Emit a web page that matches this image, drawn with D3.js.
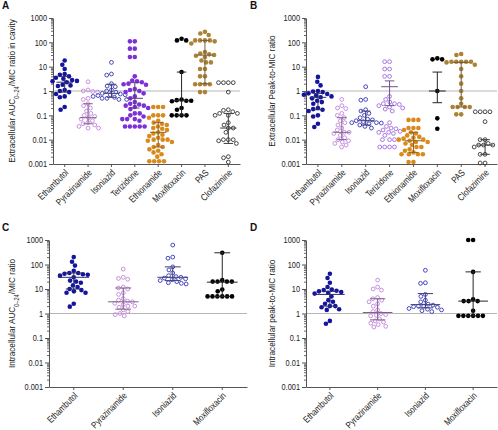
<!DOCTYPE html>
<html><head><meta charset="utf-8">
<script src="https://cdn.jsdelivr.net/npm/d3@7"></script>
<style>
body{margin:0;background:#fff;}
svg{display:block;font-family:"Liberation Sans",Arial,sans-serif;}
</style></head>
<body>
<svg id="c" width="498" height="430"></svg>
<script>
// ---------- DATA ----------
const catsAB = ["Ethambutol","Pyrazinamide","Isoniazid","Terizidone","Ethionamide","Moxifloxacin","PAS","Clofazimine"];
const catsCD = ["Ethambutol","Pyrazinamide","Isoniazid","Moxifloxacin"];
const yTicks = [0.001,0.01,0.1,1,10,100,1000];
const yTickLabels = ["0.001","0.01","0.1","1","10","100","1000"];

// Panel A: extracellular AUC0-24/MIC in cavity
const A_values = [
  [18,12,8,5,4.6,4,3.5,3.2,2.8,2.6,2.5,2.3,1.8,1.7,1.6,1.1,1.0,0.9,0.75,0.6,0.55,0.22,0.17],
  [2.4,1.1,1.0,0.95,0.9,0.5,0.45,0.3,0.25,0.2,0.15,0.12,0.1,0.09,0.08,0.07,0.06,0.05,0.045,0.04,0.035,0.03,0.03],
  [15,5,4.5,2,1.6,1.5,1.1,1.0,0.9,0.8,0.75,0.7,0.7,0.65,0.6,0.55,0.5,0.5,0.45,0.45],
  [110,110,55,55,25,25,4,2.7,2.5,2.3,2.0,1.9,1.8,1.2,1.1,1.0,0.9,0.8,0.6,0.5,0.35,0.3,0.28,0.25,0.25,0.22,0.2,0.18,0.12,0.12,0.1,0.09,0.07,0.07,0.07,0.06,0.035,0.035,0.035,0.035,0.035],
  [0.22,0.22,0.22,0.1,0.1,0.1,0.08,0.06,0.05,0.045,0.04,0.035,0.03,0.028,0.025,0.02,0.018,0.016,0.014,0.012,0.01,0.01,0.01,0.009,0.008,0.006,0.005,0.005,0.004,0.0035,0.003,0.0025,0.002,0.0013,0.0013,0.0013,0.0013],
  [140,120,120,6,0.45,0.42,0.4,0.4,0.38,0.2,0.17,0.1,0.1,0.1,0.1],
  [270,230,200,120,120,120,120,110,90,40,35,32,30,28,25,18,15,15,8,8,4,4,1.9,1.9,1.9,1.9,0.9,0.9],
  [2.2,2.2,2.2,2.2,0.9,0.17,0.16,0.14,0.12,0.12,0.1,0.1,0.05,0.04,0.03,0.03,0.02,0.01,0.01,0.01,0.009,0.007,0.002,0.0018,0.0012]
];
const A_median = [2.3,0.08,0.8,0.5,0.02,0.4,30,0.03];
const A_q1 = [0.9,0.045,0.55,0.2,0.005,0.1,2,0.007];
const A_q3 = [4,0.3,1.9,2.2,0.05,6,120,0.12];

// Panel B: extracellular peak-to-MIC
const B_values = [
  [3.8,2.4,1.7,1.0,0.95,0.9,0.8,0.75,0.7,0.65,0.6,0.55,0.5,0.4,0.35,0.3,0.2,0.18,0.17,0.15,0.1,0.09,0.045,0.033],
  [0.45,0.25,0.2,0.19,0.12,0.1,0.08,0.06,0.05,0.04,0.03,0.025,0.02,0.02,0.018,0.015,0.012,0.01,0.009,0.008,0.007,0.006,0.005],
  [1.5,0.45,0.42,0.17,0.15,0.12,0.1,0.08,0.07,0.065,0.06,0.055,0.05,0.05,0.048,0.045,0.04,0.035,0.03],
  [16,16,8,8,4,4,0.6,0.45,0.35,0.3,0.3,0.28,0.25,0.22,0.2,0.18,0.15,0.05,0.035,0.03,0.028,0.025,0.022,0.02,0.02,0.018,0.015,0.01,0.01,0.01,0.005,0.005,0.005,0.005],
  [0.065,0.065,0.065,0.03,0.03,0.03,0.025,0.02,0.018,0.015,0.013,0.012,0.011,0.01,0.01,0.009,0.008,0.008,0.007,0.006,0.005,0.005,0.004,0.0035,0.003,0.0025,0.0025,0.0025,0.0025,0.0012,0.0012],
  [20,20,22,1,0.075,0.028],
  [33,30,16,16,16,16,16,15,12,8,4,2,1,0.5,0.3,0.22,0.22,0.22,0.22,0.11,0.11],
  [0.14,0.14,0.14,0.14,0.055,0.01,0.01,0.007,0.006,0.006,0.006,0.005,0.0025,0.0025,0.0011,0.0011]
];
const B_median = [0.55,0.02,0.06,1.5,0.009,1,15,0.006];
const B_q1 = [0.17,0.01,0.04,0.25,0.003,0.33,0.22,0.0025];
const B_q3 = [0.8,0.08,0.15,2.6,0.02,6,15,0.01];

// Panel C: intracellular AUC0-24/MIC
const C_values = [
  [200,130,90,55,45,45,42,40,38,35,30,22,20,18,14,12,10,9,8,7,7,2.5,1.9],
  [65,30,27,25,12,11,10,7,6,4,3.5,3.2,3,2.6,2.3,2,2,1.8,1.4,1.2,1.0,0.9,0.8],
  [620,200,180,80,60,45,35,32,30,28,26,24,22,20,18,17,16],
  [300,23,20,20,20,20,9.5,8,5,5,5,5,5,5]
];
const C_median = [30,3,30,19];
const C_q1 = [10,1.5,22,5];
const C_q3 = [45,11,80,300];

// Panel D: intracellular peak-to-MIC
const D_values = [
  [42,28,18,12,9.5,9,8.5,8,7.5,7,6.5,5,3.5,3,2.5,2,2,1.8,1.5,1.4,0.5,0.38],
  [23,12,10,9,4.5,4,3.5,3,2.5,2,1.4,1.2,1.0,0.9,0.85,0.8,0.6,0.5,0.45,0.4,0.35,0.3,0.28],
  [58,18,17,6,5,3.5,3,2.4,2.2,2,2,1.9,1.8,1.6,1.5,1.4,1.3,1.2],
  [1000,1000,50,3.8,3.2,3.2,3.2,1.3,0.8,0.8,0.8,0.8,0.8,0.8]
];
const D_median = [6,1.1,2.3,3.2];
const D_q1 = [2,0.55,1.7,0.8];
const D_q3 = [8,4,6.5,50];

// ---------- STYLE ----------
const colAB = ["#15159c","#c384de","#3535b5","#7b31d6","#d98a1c","#000000","#ad8237","#333333"];
const fillAB_A = [true,false,false,true,true,true,true,false];
const colB = ["#15159c","#c384de","#3535b5","#a06ae0","#d98a1c","#000000","#ad8237","#333333"];
const fillAB_B = [true,false,false,false,true,true,true,false];
const colCD = ["#15159c","#c384de","#3535b5","#000000"];
const fillCD = [true,false,false,true];

const svg = d3.select("#c");
const R = 2.3;

function condense(sel,k){
  sel.each(function(){
    const L=this.getComputedTextLength();
    if(L>0){this.setAttribute("textLength",(L*k).toFixed(2));this.setAttribute("lengthAdjust","spacingAndGlyphs");}
  });
}

function swarm(vals, y, D){
  const sorted = vals.map(v=>({v, y:y(v)})).sort((a,b)=>a.y-b.y);
  const placed=[];
  sorted.forEach(p=>{
    const cands=[0];
    placed.forEach(q=>{
      const dy=Math.abs(p.y-q.y);
      if(dy<D){const dx=Math.sqrt(D*D-dy*dy); cands.push(q.x+dx,q.x-dx);}
    });
    cands.sort((a,b)=>Math.abs(a)-Math.abs(b)||a-b);
    for(const c of cands){
      let ok=true;
      for(const q of placed){const dx=c-q.x,dy=p.y-q.y; if(dx*dx+dy*dy<D*D-0.01){ok=false;break;}}
      if(ok){p.x=c;break;}
    }
    placed.push(p);
  });
  return placed;
}

function panel(cfg){
  const g = svg.append("g");
  const y = d3.scaleLog().domain([0.001,1000]).range([cfg.y1,cfg.y0]);
  const x = d3.scaleBand().domain(cfg.cats).range([cfg.x0,cfg.x1]);
  // reference line at 1
  g.append("line").attr("x1",cfg.x0).attr("x2",cfg.x1).attr("y1",y(1)).attr("y2",y(1))
    .attr("stroke","#b5b5b5").attr("stroke-width",1);
  // minor ticks
  const minors=[];
  for(let e=-3;e<3;e++) for(let k=2;k<10;k++) minors.push(k*Math.pow(10,e));
  g.append("g").attr("transform",`translate(${cfg.x0},0)`)
    .call(d3.axisLeft(y).tickValues(minors).tickSize(2).tickFormat(""))
    .call(s=>{s.select(".domain").remove(); s.selectAll("line").attr("stroke","#666");});
  const ya = g.append("g").attr("transform",`translate(${cfg.x0},0)`)
    .call(d3.axisLeft(y).tickValues(yTicks).tickFormat((d,i)=>yTickLabels[i]).tickSize(4).tickSizeOuter(0));
  ya.select(".domain").attr("stroke","#555");
  ya.selectAll("line").attr("stroke","#555");
  ya.selectAll("text").attr("font-size","9px").attr("fill","#222").attr("font-family","Liberation Sans, Arial, sans-serif").attr("x",-6);
  condense(ya.selectAll("text"),0.82);
  const xa = g.append("g").attr("transform",`translate(0,${cfg.y1})`)
    .call(d3.axisBottom(x).tickSize(3).tickSizeOuter(0));
  xa.select(".domain").attr("stroke","#555");
  xa.selectAll("line").attr("stroke","#555");
  xa.selectAll("text").attr("font-size","9.5px").attr("fill","#1a1a1a").attr("font-family","Liberation Sans, Arial, sans-serif")
    .attr("text-anchor","end").attr("x",0).attr("y",0).attr("dy","0.35em").attr("transform","translate(2,7) rotate(-45)");
  condense(xa.selectAll("text"),0.8);

  // points
  cfg.cats.forEach((c,i)=>{
    const cx = x(c)+x.bandwidth()/2;
    const pts = swarm(cfg.values[i], y, 2*R+0.3);
    const col = cfg.colors[i];
    g.append("g").selectAll("circle").data(pts).join("circle")
      .attr("cx",d=>cx+d.x).attr("cy",d=>d.y).attr("r",cfg.fills[i]?R:R-0.4)
      .attr("fill",cfg.fills[i]?col:"#fff").attr("fill-opacity",cfg.fills[i]?1:0)
      .attr("stroke",col).attr("stroke-width",cfg.fills[i]?0:0.9);
    // error bar
    const wc = d3.interpolateRgb(col,"#444")(0.55);
    const bw = x.bandwidth();
    const mw = bw*cfg.medFrac, cw = bw*cfg.capFrac;
    g.append("line").attr("x1",cx).attr("x2",cx).attr("y1",y(cfg.q1[i])).attr("y2",y(cfg.q3[i]))
      .attr("stroke",wc).attr("stroke-width",1);
    [cfg.q1[i],cfg.q3[i]].forEach(v=>{
      g.append("line").attr("x1",cx-cw/2).attr("x2",cx+cw/2).attr("y1",y(v)).attr("y2",y(v))
        .attr("stroke",wc).attr("stroke-width",1);
    });
    g.append("line").attr("x1",cx-mw/2).attr("x2",cx+mw/2).attr("y1",y(cfg.med[i])).attr("y2",y(cfg.med[i]))
      .attr("stroke",wc).attr("stroke-width",1);
  });

  // y label
  const lab = g.append("text").attr("transform",`translate(${cfg.labelX},${(cfg.y0+cfg.y1)/2}) rotate(-90)`)
    .attr("text-anchor","middle").attr("font-size","9.5px").attr("fill","#222");
  cfg.label.forEach(part=>{
    const t = lab.append("tspan").text(part.t);
    if(part.sub) t.attr("font-size","6.5px").attr("baseline-shift","sub");
  });
  condense(lab,0.86);
  // letter
  svg.append("text").attr("x",cfg.lx).attr("y",cfg.ly).attr("font-size","10px").attr("font-weight","bold")
    .attr("fill","#111").text(cfg.letter);
}

panel({x0:53,x1:240,y0:18,y1:164,cats:catsAB,values:A_values,med:A_median,q1:A_q1,q3:A_q3,
  colors:colAB,fills:fillAB_A,medFrac:0.7,capFrac:0.4,labelX:15,
  label:[{t:"Extracellular AUC"},{t:"0\u201324",sub:true},{t:"/MIC ratio in cavity"}],letter:"A",lx:2,ly:9});
panel({x0:306,x1:497,y0:18,y1:164,cats:catsAB,values:B_values,med:B_median,q1:B_q1,q3:B_q3,
  colors:colB,fills:fillAB_B,medFrac:0.7,capFrac:0.4,labelX:275,
  label:[{t:"Extracellular Peak-to-MIC ratio"}],letter:"B",lx:250,ly:9});
panel({x0:49,x1:247,y0:240,y1:387,cats:catsCD,values:C_values,med:C_median,q1:C_q1,q3:C_q3,
  colors:colCD,fills:fillCD,medFrac:0.62,capFrac:0.32,labelX:15,
  label:[{t:"Intracellular AUC"},{t:"0\u201324",sub:true},{t:"/MIC ratio"}],letter:"C",lx:2,ly:231});
panel({x0:306,x1:497,y0:240,y1:387,cats:catsCD,values:D_values,med:D_median,q1:D_q1,q3:D_q3,
  colors:colCD,fills:fillCD,medFrac:0.62,capFrac:0.32,labelX:275,
  label:[{t:"Intracellular peak-to-MIC ratio"}],letter:"D",lx:250,ly:231});
</script>
</body></html>
